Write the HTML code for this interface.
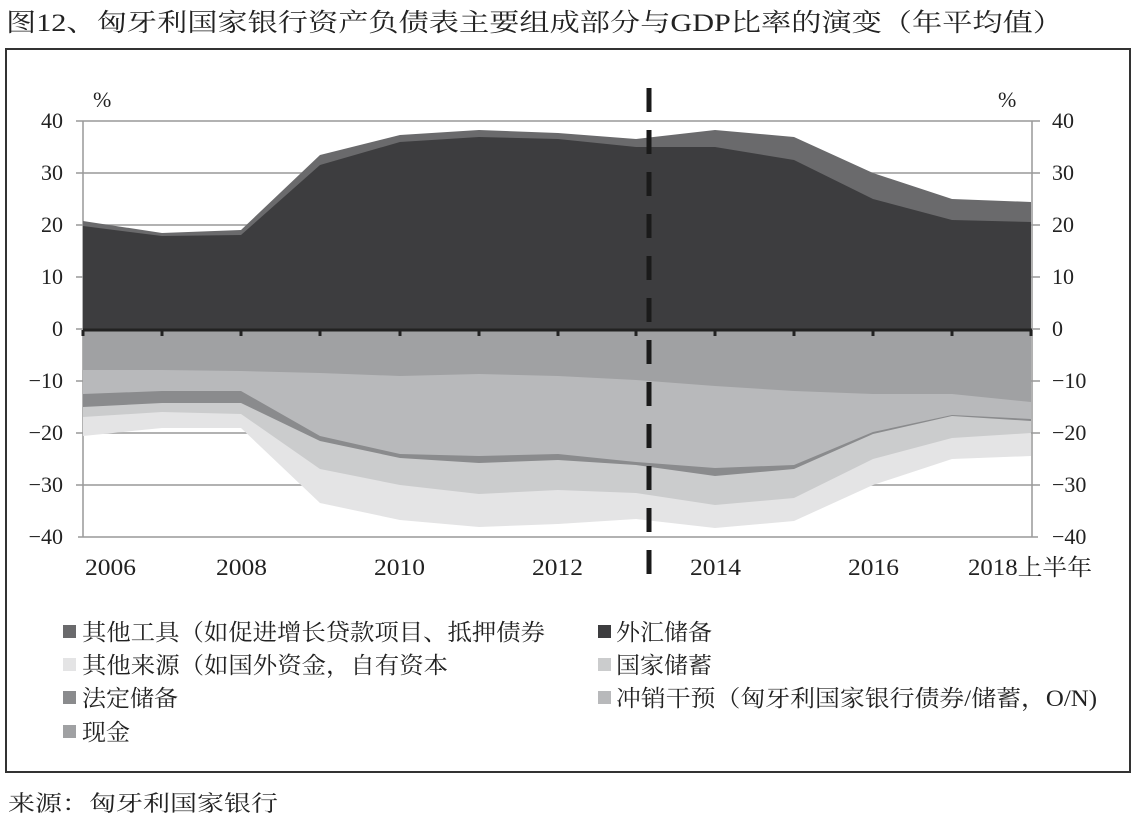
<!DOCTYPE html>
<html><head><meta charset="utf-8"><style>
body{margin:0;width:1137px;height:835px;background:#fff;overflow:hidden;font-family:"Liberation Serif","Noto Serif CJK SC",serif;}
</style></head><body>
<svg width="1137" height="835" viewBox="0 0 1137 835" xmlns="http://www.w3.org/2000/svg" font-family="Liberation Serif, Noto Serif CJK SC, serif">
<text x="6" y="31" font-size="25" fill="#222" textLength="1057" lengthAdjust="spacingAndGlyphs">图12、匈牙利国家银行资产负债表主要组成部分与GDP比率的演变（年平均值）</text>
<rect x="6" y="49" width="1124" height="723" fill="none" stroke="#333" stroke-width="2"/>
<g stroke="#999" stroke-width="1.5">
<line x1="83" y1="121" x2="1032" y2="121"/><line x1="83" y1="173" x2="1032" y2="173"/><line x1="83" y1="225" x2="1032" y2="225"/><line x1="83" y1="277" x2="1032" y2="277"/>
<line x1="83" y1="381" x2="1032" y2="381"/><line x1="83" y1="433" x2="1032" y2="433"/><line x1="83" y1="485" x2="1032" y2="485"/><line x1="78" y1="537" x2="1038" y2="537"/>
<line x1="83" y1="121" x2="83" y2="537"/><line x1="1032" y1="121" x2="1032" y2="537"/>
</g>
<g stroke="#999" stroke-width="1.5">
<line x1="76" y1="121" x2="83" y2="121"/><line x1="76" y1="173" x2="83" y2="173"/><line x1="76" y1="225" x2="83" y2="225"/><line x1="76" y1="277" x2="83" y2="277"/><line x1="76" y1="329" x2="83" y2="329"/><line x1="76" y1="381" x2="83" y2="381"/><line x1="76" y1="433" x2="83" y2="433"/><line x1="76" y1="485" x2="83" y2="485"/>
<line x1="1032" y1="121" x2="1040" y2="121"/><line x1="1032" y1="173" x2="1040" y2="173"/><line x1="1032" y1="225" x2="1040" y2="225"/><line x1="1032" y1="277" x2="1040" y2="277"/><line x1="1032" y1="329" x2="1040" y2="329"/><line x1="1032" y1="381" x2="1040" y2="381"/><line x1="1032" y1="433" x2="1040" y2="433"/><line x1="1032" y1="485" x2="1040" y2="485"/>
</g>
<polygon fill="#6a6a6c" points="83,329 83,221 162,233 241,230 320,155 400,135 479,130 558,133 636,139 715,130 794,137 873,173 952,199 1031,202 1031,329"/>
<polygon fill="#3d3d3f" points="83,329 83,226 162,236 241,235 320,165 400,142 479,137 558,139 636,147 715,147 794,160 873,199 952,220 1031,222 1031,329"/>
<polygon fill="#e4e4e5" points="83,329 83,436 162,428 241,428 320,503 400,520 479,527 558,524 636,519 715,528 794,521 873,485 952,459 1031,456 1031,329"/>
<polygon fill="#cbcccd" points="83,329 83,417 162,412 241,414 320,469 400,485 479,494 558,490 636,493 715,505 794,498 873,459 952,438 1031,433 1031,329"/>
<polygon fill="#8a8b8d" points="83,329 83,407 162,403 241,403 320,441 400,458 479,463 558,460 636,465 715,476 794,469 873,434 952,416 1031,421 1031,329"/>
<polygon fill="#b8b9bb" points="83,329 83,394 162,391 241,391 320,436 400,454 479,456 558,454 636,462 715,468 794,465 873,432 952,415 1031,419 1031,329"/>
<polygon fill="#a0a1a3" points="83,329 83,370 162,370 241,371 320,373 400,376 479,374 558,376 636,380 715,386 794,391 873,394 952,394 1031,402 1031,329"/>
<line x1="83" y1="330" x2="1032" y2="330" stroke="#222" stroke-width="3"/>
<g stroke="#222" stroke-width="3">
<line x1="83" y1="330" x2="83" y2="336"/><line x1="162" y1="330" x2="162" y2="336"/><line x1="241" y1="330" x2="241" y2="336"/><line x1="320" y1="330" x2="320" y2="336"/><line x1="400" y1="330" x2="400" y2="336"/><line x1="479" y1="330" x2="479" y2="336"/><line x1="558" y1="330" x2="558" y2="336"/><line x1="636" y1="330" x2="636" y2="336"/><line x1="715" y1="330" x2="715" y2="336"/><line x1="794" y1="330" x2="794" y2="336"/><line x1="873" y1="330" x2="873" y2="336"/><line x1="952" y1="330" x2="952" y2="336"/><line x1="1031" y1="330" x2="1031" y2="336"/>
</g>
<line x1="649" y1="88" x2="649" y2="582" stroke="#1a1a1a" stroke-width="5" stroke-dasharray="24,18"/>
<g font-size="22" fill="#222" text-anchor="end">
<text x="63" y="128">40</text><text x="63" y="180">30</text><text x="63" y="232">20</text><text x="63" y="284">10</text><text x="63" y="336">0</text><text x="63" y="388">−10</text><text x="63" y="440">−20</text><text x="63" y="492">−30</text><text x="63" y="544">−40</text>
</g>
<g font-size="22" fill="#222">
<text x="1052" y="128">40</text><text x="1052" y="180">30</text><text x="1052" y="232">20</text><text x="1052" y="284">10</text><text x="1052" y="336">0</text><text x="1052" y="388">−10</text><text x="1052" y="440">−20</text><text x="1052" y="492">−30</text><text x="1052" y="544">−40</text>
<text x="93" y="107">%</text><text x="998" y="107">%</text>
</g>
<g font-size="23" fill="#222">
<text x="85" y="575" textLength="51" lengthAdjust="spacingAndGlyphs">2006</text><text x="216" y="575" textLength="51" lengthAdjust="spacingAndGlyphs">2008</text><text x="374" y="575" textLength="51" lengthAdjust="spacingAndGlyphs">2010</text><text x="532" y="575" textLength="51" lengthAdjust="spacingAndGlyphs">2012</text><text x="690" y="575" textLength="51" lengthAdjust="spacingAndGlyphs">2014</text><text x="848" y="575" textLength="51" lengthAdjust="spacingAndGlyphs">2016</text><text x="968" y="575" textLength="124" lengthAdjust="spacingAndGlyphs">2018上半年</text>
</g>
<g font-size="23" fill="#222">
<rect x="63" y="625" width="13" height="13" fill="#6a6a6c"/><text x="82" y="640" textLength="463" lengthAdjust="spacingAndGlyphs">其他工具（如促进增长贷款项目、抵押债券</text>
<rect x="63" y="658" width="13" height="13" fill="#e4e4e5"/><text x="82" y="673" textLength="366" lengthAdjust="spacingAndGlyphs">其他来源（如国外资金，自有资本</text>
<rect x="63" y="691" width="13" height="13" fill="#8a8b8d"/><text x="82" y="706" textLength="96" lengthAdjust="spacingAndGlyphs">法定储备</text>
<rect x="63" y="725" width="13" height="13" fill="#a0a1a3"/><text x="82" y="740" textLength="48" lengthAdjust="spacingAndGlyphs">现金</text>
<rect x="598" y="625" width="13" height="13" fill="#3d3d3f"/><text x="616" y="640" textLength="96" lengthAdjust="spacingAndGlyphs">外汇储备</text>
<rect x="598" y="658" width="13" height="13" fill="#cbcccd"/><text x="616" y="673" textLength="96" lengthAdjust="spacingAndGlyphs">国家储蓄</text>
<rect x="598" y="691" width="13" height="13" fill="#b8b9bb"/><text x="616" y="706" textLength="481" lengthAdjust="spacingAndGlyphs">冲销干预（匈牙利国家银行债券/储蓄，O/N)</text>
</g>
<text x="8" y="811" font-size="22" fill="#222" textLength="270" lengthAdjust="spacingAndGlyphs">来源：匈牙利国家银行</text>
</svg>
</body></html>
